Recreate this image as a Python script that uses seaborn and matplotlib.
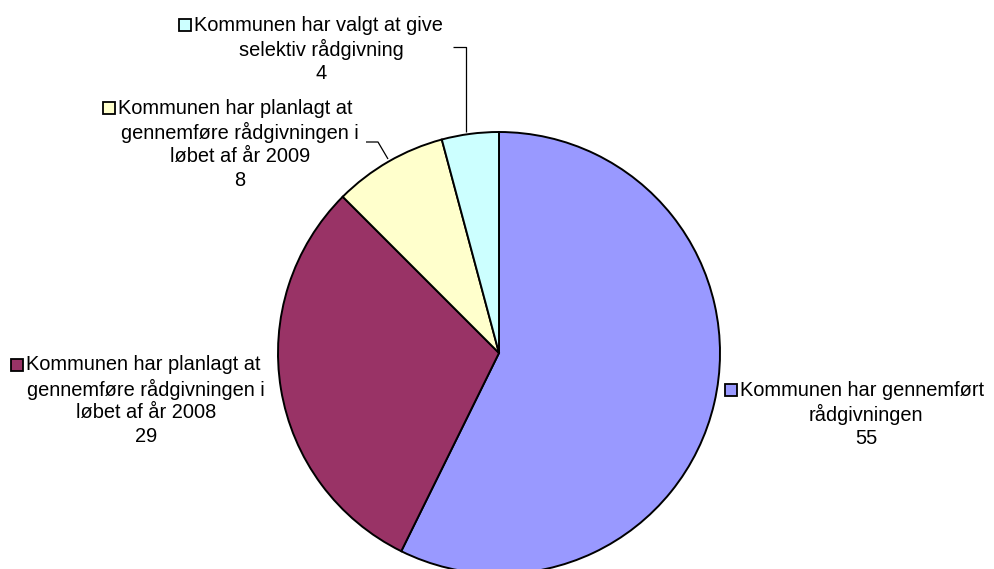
import matplotlib
matplotlib.use("Agg")
import matplotlib.pyplot as plt
import seaborn as sns
from matplotlib.patches import Rectangle

categories = [
    "Kommunen har gennemført rådgivningen",
    "Kommunen har planlagt at gennemføre rådgivningen i løbet af år 2008",
    "Kommunen har planlagt at gennemføre rådgivningen i løbet af år 2009",
    "Kommunen har valgt at give selektiv rådgivning",
]
values = [55, 29, 8, 4]
label_lines = [
    ["Kommunen har gennemført", "rådgivningen"],
    ["Kommunen har planlagt at", "gennemføre rådgivningen i", "løbet af år 2008"],
    ["Kommunen har planlagt at", "gennemføre rådgivningen i", "løbet af år 2009"],
    ["Kommunen har valgt at give", "selektiv rådgivning"],
]
colors = ["#9999FF", "#993366", "#FFFFCC", "#CCFFFF"]

sns.set_theme(style="white")
plt.rcParams["font.family"] = ["Liberation Sans", "DejaVu Sans"]

W, H = 994, 569
fig = plt.figure(figsize=(W / 100, H / 100), dpi=100)
fig.patch.set_facecolor("white")
ax = fig.add_axes([0, 0, 1, 1])


def Y(py):
    return H - py


ax.pie(values, colors=colors, startangle=90, counterclock=False,
       center=(499, Y(353)), radius=221,
       wedgeprops=dict(edgecolor="black", linewidth=1.4))
ax.set_xlim(0, W)
ax.set_ylim(0, H)
ax.set_aspect("auto")
ax.axis("off")

# label layout: (marker left x, first line y, centre x)
layout = [(725, 390, 866), (11, 365, 146), (103, 108, 240), (179, 25, 321)]
spacing = 24
fs = 14.4
msz = 12
for lines, val, col, (mx, y0, cx) in zip(label_lines, values, colors, layout):
    ax.add_patch(Rectangle((mx, Y(y0) - msz / 2), msz, msz, facecolor=col,
                           edgecolor="black", linewidth=1.3, clip_on=False))
    ax.text(mx + 15, Y(y0), lines[0], ha="left", va="center", fontsize=fs,
            color="black")
    for i, ln in enumerate(lines[1:] + [str(val)], start=1):
        ax.text(cx, Y(y0 + i * spacing), ln, ha="center", va="center",
                fontsize=fs, color="black")

# leader lines
leaders = [
    [(453, 47), (466, 47), (466, 132)],
    [(366, 142), (378, 142), (388, 159)],
]
for pts in leaders:
    ax.plot([p[0] for p in pts], [Y(p[1]) for p in pts], color="black",
            linewidth=0.9, solid_capstyle="butt")

fig.savefig("out.png", dpi=100, facecolor="white")
